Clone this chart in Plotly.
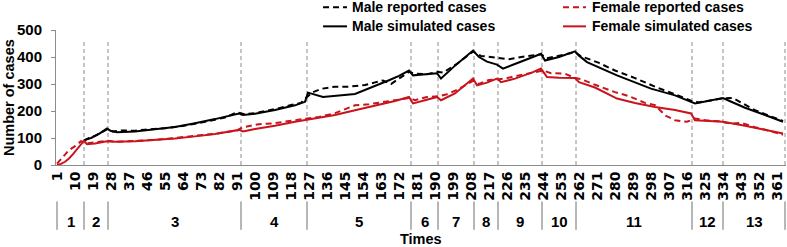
import plotly.graph_objects as go

# ---- data ----
male_rep_days = [14.5, 17, 20, 23, 26, 29, 33, 40, 45, 55, 65, 75, 85, 91, 95, 100, 110, 118, 123, 126, 129, 133,
                 140, 147, 155, 160, 164, 168, 172, 177, 180, 186, 191, 194, 201, 209, 213, 217, 222, 227, 235,
                 243, 246, 252, 260, 263, 266, 272, 280, 290, 300, 310, 318, 322, 330, 334, 339, 342, 350, 358, 364]
male_rep = [90, 100, 108, 120, 132, 124, 128, 127, 131, 136, 146, 160, 176, 195, 188, 192, 207, 222, 230, 252, 270, 282,
            290, 290, 296, 306, 313, 300, 320, 345, 338, 336, 345, 342, 375, 420, 404, 400, 395, 392, 402,
            410, 395, 405, 418, 402, 395, 378, 350, 322, 290, 262, 238, 232, 242, 247, 248, 235, 203, 180, 163]

male_sim_days = [14.5, 18, 22, 26, 28, 31, 40, 50, 60, 70, 80, 92, 94, 100, 110, 120, 125, 126.5, 129, 134, 150,
                 160, 167, 172, 177, 179, 185, 191, 193, 200, 209, 212, 216, 221, 224, 231, 239, 243, 245, 252,
                 260, 262, 266, 281, 298, 310, 318, 320, 327, 334, 337, 345, 355, 364]
male_sim = [92, 100, 115, 135, 126, 121, 124, 132, 141, 155, 170, 191, 185, 190, 204, 221, 234, 268, 262, 252, 263,
            292, 314, 330, 350, 332, 335, 340, 320, 368, 424, 400, 383, 372, 357, 376, 400, 412, 387, 400,
            421, 405, 381, 332, 283, 258, 234, 228, 238, 248, 238, 212, 185, 160]

female_rep_days = [1, 4, 7, 10, 13, 16, 20, 26, 30, 40, 50, 60, 70, 80, 91, 94, 102, 110, 120, 126, 132, 140, 150,
                   157, 163, 170, 177, 180, 186, 192, 196, 201, 205, 209, 212, 217, 222, 226, 232, 240, 244, 248,
                   255, 260, 263, 270, 280, 287, 295, 300, 305, 310, 316, 320, 326, 332, 338, 343, 350, 357, 364]
female_rep = [5, 30, 55, 70, 88, 80, 83, 90, 86, 90, 93, 100, 108, 116, 128, 140, 151, 155, 166, 172, 178, 192, 221,
              225, 232, 240, 248, 240, 252, 255, 262, 278, 295, 312, 300, 315, 318, 322, 332, 345, 350, 340,
              338, 322, 318, 297, 270, 255, 230, 222, 184, 166, 160, 172, 165, 162, 153, 156, 140, 127, 112]

female_sim_days = [1, 3, 5, 7, 9, 11, 13, 14.5, 16, 20, 26, 30, 40, 50, 60, 70, 80, 92, 94, 100, 110, 120, 126, 130,
                   140, 150, 160, 170, 177, 179, 185, 191, 193, 200, 209, 211, 216, 221, 223, 230, 239, 243, 246,
                   252, 260, 262, 270, 281, 290, 300, 310, 318, 320, 334, 345, 355, 364]
female_sim = [0, 4, 12, 24, 40, 58, 78, 90, 77, 80, 88, 86, 88, 93, 98, 106, 115, 130, 124, 133, 145, 160, 167, 172,
              185, 203, 220, 237, 252, 228, 240, 252, 240, 265, 320, 295, 305, 320, 307, 320, 344, 357, 326,
              323, 322, 307, 287, 246, 230, 215, 204, 191, 166, 160, 145, 130, 117]

period_bounds = [1, 14.5, 26.5, 93, 126, 178, 191.5, 209.5, 221.5, 243.5, 260.5, 318.5, 334, 365]
period_labels = [str(i) for i in range(1, 14)]
tick_days = list(range(1, 362, 9))

series_names = ["Male reported cases", "Male simulated cases", "Female reported cases", "Female simulated cases"]

BLACK = "#000000"
RED = "#C8141C"
GRID = "#8C8C8C"
FONT = "Liberation Sans, Arial, sans-serif"
DASH = "6px,4px"

styles = [
    (male_rep_days, male_rep, BLACK, DASH),
    (male_sim_days, male_sim, BLACK, "solid"),
    (female_rep_days, female_rep, RED, DASH),
    (female_sim_days, female_sim, RED, "solid"),
]

fig = go.Figure()
for name, (xd, yd, col, dash) in zip(series_names, styles):
    fig.add_trace(go.Scatter(x=xd, y=yd, mode="lines", name=name, showlegend=False,
                             line=dict(color=col, width=2, dash=dash)))

shapes = []
for b in period_bounds[1:]:
    shapes.append(dict(type="line", xref="x", yref="y", x0=b, x1=b, y0=0, y1=464,
                       line=dict(color=GRID, width=1, dash="4px,3px"), layer="below"))
for b in period_bounds:
    shapes.append(dict(type="line", xref="x", yref="paper", x0=b, x1=b, y0=-0.27, y1=-0.48,
                       line=dict(color="#6E6E6E", width=1)))

annotations = []
for i, lab in enumerate(period_labels):
    xc = (period_bounds[i] + period_bounds[i + 1]) / 2
    annotations.append(dict(x=xc, y=-0.415, xref="x", yref="paper", text=lab, showarrow=False,
                            font=dict(family=FONT, size=15, color="#000", weight="bold"),
                            xanchor="center", yanchor="middle"))
annotations.append(dict(x=0.5, y=-0.545, xref="paper", yref="paper", text="Times", showarrow=False,
                        font=dict(family=FONT, size=14.5, color="#000", weight="bold"),
                        xanchor="center", yanchor="middle"))
annotations.append(dict(x=-0.065, y=0.5, xref="paper", yref="paper", text="Number of cases", showarrow=False,
                        textangle=-90, font=dict(family=FONT, size=14.5, color="#000", weight="bold"),
                        xanchor="center", yanchor="middle"))

# legend laid out as a 2x2 key above the plot
legend_pos = [(0.3658, 0.3986, 0.4027, 1.168), (0.3658, 0.3986, 0.4027, 1.027),
              (0.6945, 0.7260, 0.7315, 1.168), (0.6945, 0.7260, 0.7315, 1.027)]
for name, (xd, yd, col, dash), (sx0, sx1, tx, ly) in zip(series_names, styles, legend_pos):
    shapes.append(dict(type="line", xref="paper", yref="paper", x0=sx0, x1=sx1, y0=ly, y1=ly,
                       line=dict(color=col, width=2, dash=dash)))
    annotations.append(dict(x=tx, y=ly, xref="paper", yref="paper", text=name, showarrow=False,
                            font=dict(family=FONT, size=14, color="#000", weight="bold"),
                            xanchor="left", yanchor="middle"))

fig.update_layout(
    width=787, height=247,
    margin=dict(l=56, r=1, t=30, b=82, autoexpand=False),
    paper_bgcolor="white", plot_bgcolor="white",
    showlegend=False,
    xaxis=dict(range=[0.5, 365.5], tickmode="array", tickvals=tick_days, ticktext=[str(t) for t in tick_days],
               tickangle=-90, showgrid=False, zeroline=False, showline=True, linecolor=GRID, linewidth=1,
               ticks="", automargin=False,
               tickfont=dict(family="DejaVu Sans", size=14, color="#000", weight="bold")),
    yaxis=dict(range=[0, 500], tickmode="linear", dtick=100, showgrid=False, zeroline=False,
               showline=True, linecolor=GRID, linewidth=1, ticks="outside", ticklen=4, tickcolor=GRID,
               ticklabelstandoff=6, automargin=False,
               tickfont=dict(family=FONT, size=15, color="#000", weight="bold")),
    shapes=shapes, annotations=annotations,
)

# remove the browser's default 8px page margin so the figure sits at the window's corner
fig.write_html("out.html", config={"displayModeBar": False},
               post_script="document.body.style.margin='0px';document.body.style.overflow='hidden';")
